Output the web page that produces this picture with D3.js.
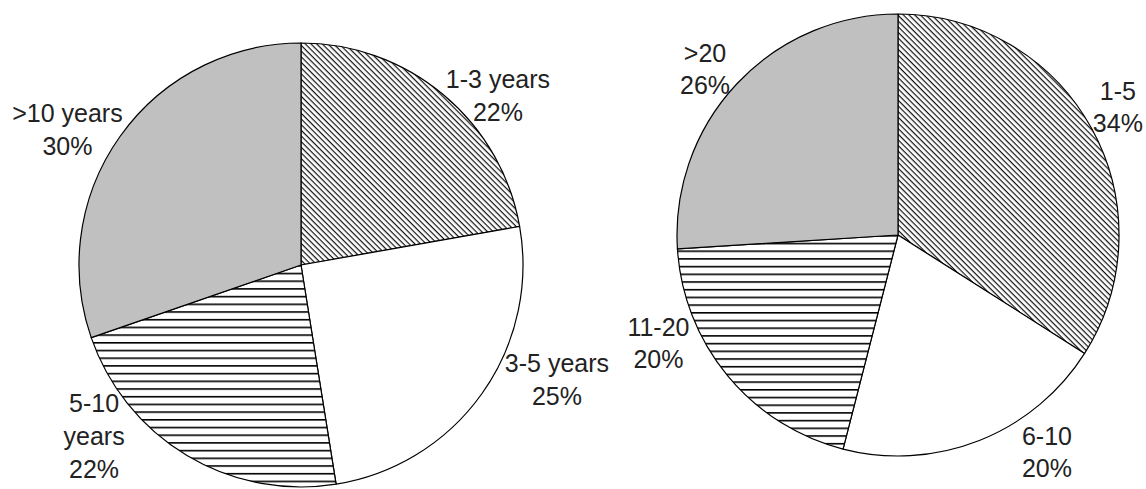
<!DOCTYPE html>
<html><head><meta charset="utf-8">
<script src="https://cdn.jsdelivr.net/npm/d3@7"></script>
<style>html,body{margin:0;padding:0;background:#fff;} svg{display:block;}</style>
</head><body>
<script>
// ---- data ----
const leftCategories = ["1-3 years", "3-5 years", "5-10 years", ">10 years"];
const leftValues = [22, 25, 22, 30];
const rightCategories = ["1-5", "6-10", "11-20", ">20"];
const rightValues = [34, 20, 20, 26];

// ---- layout / style ----
const W = 1146, H = 489;
const fills = ["url(#diag)", "#ffffff", "url(#horiz)", "#c0c0c0"];
const pies = [
  { cats: leftCategories, vals: leftValues, cx: 301, cy: 265, r: 222,
    lab: [[0.887, -0.763], [1.153, 0.516], [-0.932, 0.772], [-1.052, -0.610]],
    wrap: [false, false, true, false], pitch: 33 },
  { cats: rightCategories, vals: rightValues, cx: 898, cy: 235, r: 221,
    lab: [[0.995, -0.579], [0.674, 0.984], [-1.084, 0.489], [-0.873, -0.751]],
    wrap: [false, false, false, false], pitch: 32 }
];

const svg = d3.select("body").append("svg").attr("width", W).attr("height", H);
svg.append("rect").attr("width", W).attr("height", H).attr("fill", "#fff");

const defs = svg.append("defs");
const pd = defs.append("pattern").attr("id", "diag").attr("patternUnits", "userSpaceOnUse")
  .attr("width", 4).attr("height", 4).attr("patternTransform", "rotate(45)");
pd.append("rect").attr("width", 4).attr("height", 4).attr("fill", "#fff");
pd.append("rect").attr("width", 4).attr("height", 1.2).attr("fill", "#111");
const ph = defs.append("pattern").attr("id", "horiz").attr("patternUnits", "userSpaceOnUse")
  .attr("width", 8).attr("height", 7.7);
ph.append("rect").attr("width", 8).attr("height", 7.7).attr("fill", "#fff");
ph.append("rect").attr("width", 8).attr("height", 1.6).attr("fill", "#000");

pies.forEach(p => {
  const arcs = d3.pie().sort(null).value(d => d)(p.vals);
  const arc = d3.arc().innerRadius(0).outerRadius(p.r);
  const g = svg.append("g").attr("transform", `translate(${p.cx},${p.cy})`);
  g.selectAll("path").data(arcs).join("path")
    .attr("d", arc)
    .attr("fill", (d, i) => fills[i])
    .attr("stroke", "#000").attr("stroke-width", 1.2).attr("stroke-linejoin", "round");

  const lg = svg.append("g").attr("font-family", "'Liberation Sans', Arial, sans-serif")
    .attr("font-size", 25).attr("fill", "#222").attr("text-anchor", "middle");
  arcs.forEach((a, i) => {
    const pct = p.vals[i] + "%";
    const lines = p.wrap[i] ? p.cats[i].split(" ").concat([pct]) : [p.cats[i], pct];
    const x = p.cx + p.lab[i][0] * p.r;
    const yc = p.cy + p.lab[i][1] * p.r;
    const y0 = yc - (lines.length - 1) * p.pitch / 2 + 9;
    const t = lg.append("text").attr("x", x).attr("y", y0);
    lines.forEach((s, k) => {
      t.append("tspan").attr("x", x).attr("dy", k === 0 ? 0 : p.pitch).text(s);
    });
  });
});
</script>
</body></html>
